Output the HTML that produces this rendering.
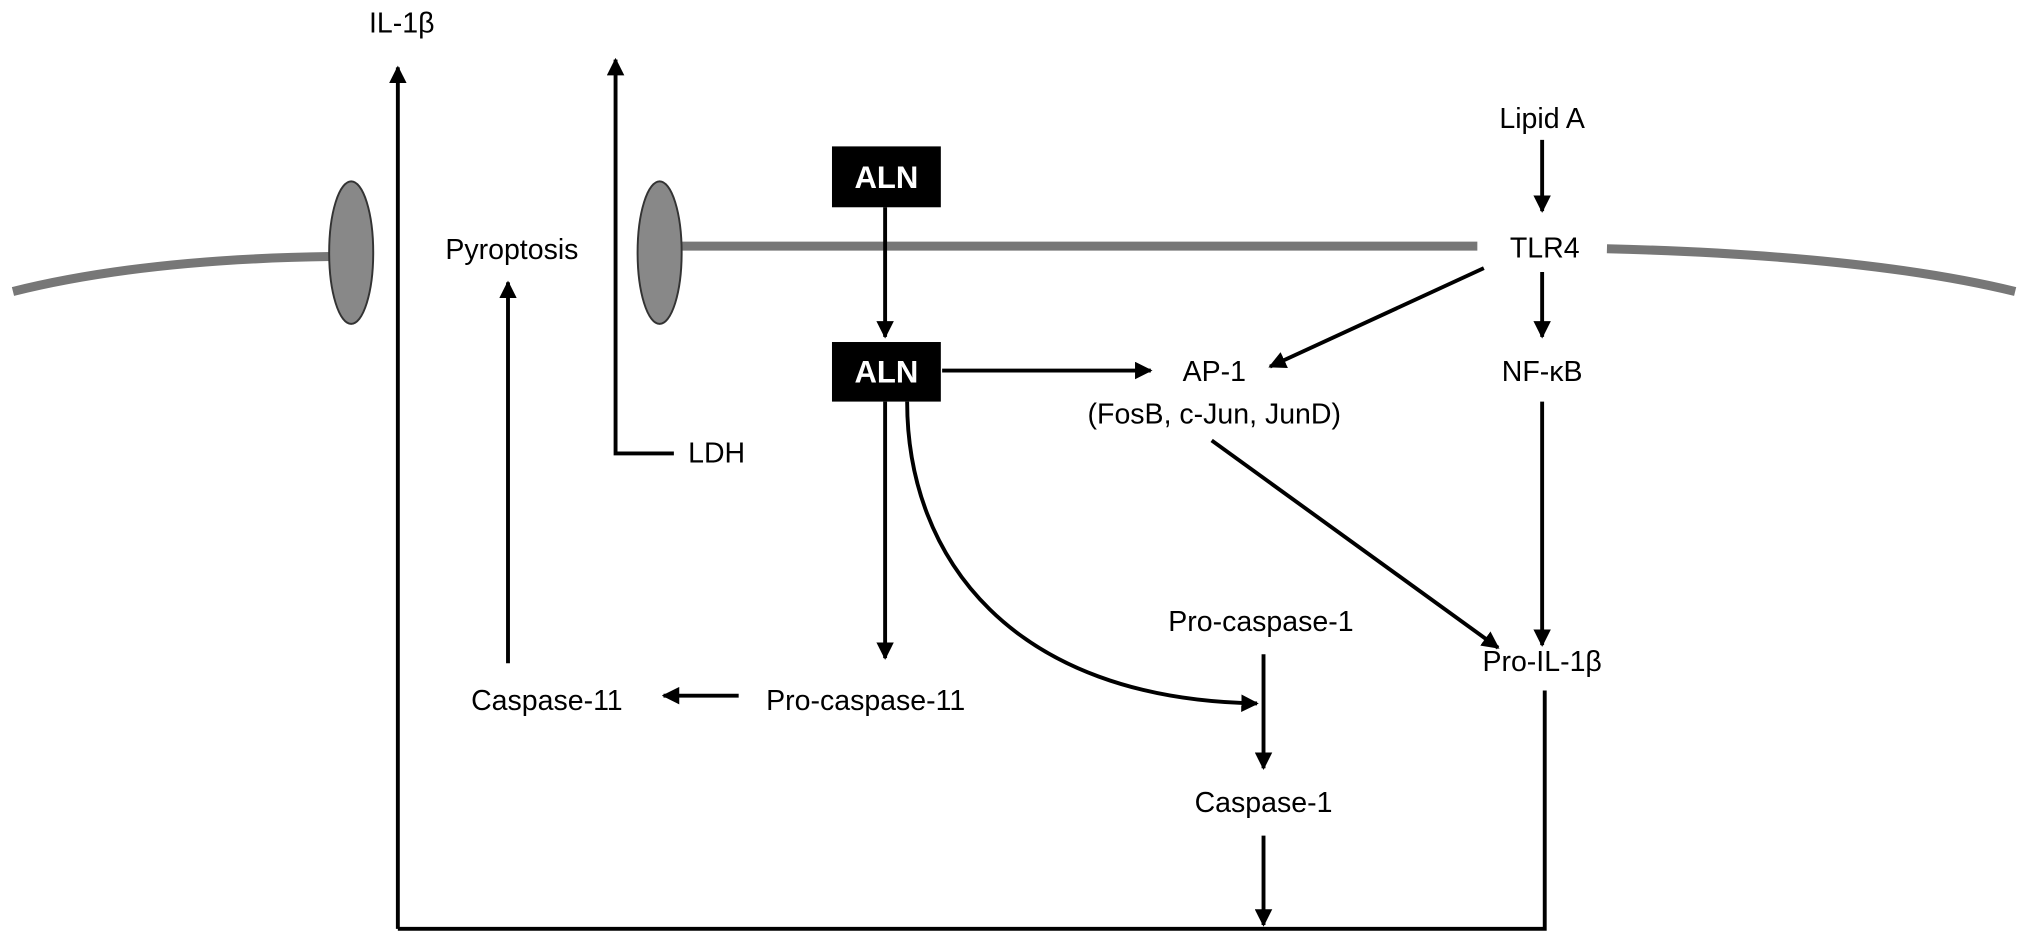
<!DOCTYPE html>
<html><head><meta charset="utf-8"><style>html,body{margin:0;padding:0;background:#fff}svg{display:block}</style></head>
<body>
<svg width="2032" height="947" viewBox="0 0 1568 731" preserveAspectRatio="none" xmlns="http://www.w3.org/2000/svg" font-family="Liberation Sans, sans-serif" font-size="22">
<defs>
<marker id="a" viewBox="0 0 10 10" refX="9" refY="5" markerWidth="4.5" markerHeight="4.5" orient="auto"><path d="M0,0 L10,5 L0,10 z" fill="#000"/></marker>
</defs>
<g fill="none" stroke="#777" stroke-width="7">
<path d="M10,225 Q110,200 255,198"/>
<path d="M525,190 L1140,190"/>
<path d="M1240,192 Q1440,197 1555,225"/>
</g>
<ellipse cx="271" cy="195" rx="17" ry="55" fill="#888" stroke="#333" stroke-width="1.5"/>
<ellipse cx="509" cy="195" rx="17" ry="55" fill="#888" stroke="#333" stroke-width="1.5"/>
<g stroke="#000" stroke-width="3" fill="none">
<path d="M307,717 L307,52" marker-end="url(#a)"/>
<path d="M307,717 L1192,717 L1192,533"/>
<path d="M975,645 L975,714" marker-end="url(#a)"/>
<path d="M520,350 L475,350 L475,46" marker-end="url(#a)"/>
<path d="M392,512 L392,218" marker-end="url(#a)"/>
<path d="M683,160 L683,260" marker-end="url(#a)"/>
<path d="M683,310 L683,508" marker-end="url(#a)"/>
<path d="M727,286 L888,286" marker-end="url(#a)"/>
<path d="M1190,108 L1190,163" marker-end="url(#a)"/>
<path d="M1190,210 L1190,260" marker-end="url(#a)"/>
<path d="M1190,310 L1190,498" marker-end="url(#a)"/>
<path d="M1145,207 L980,283" marker-end="url(#a)"/>
<path d="M935,340 L1156,500" marker-end="url(#a)"/>
<path d="M700,310 C700,430 780,540 970,543" marker-end="url(#a)"/>
<path d="M975,505 L975,593" marker-end="url(#a)"/>
<path d="M570,537 L512,537" marker-end="url(#a)"/>
</g>
<rect x="642" y="113" width="84" height="47" fill="#000"/>
<rect x="642" y="264" width="84" height="46" fill="#000"/>
<g text-anchor="middle" dominant-baseline="central">
<text x="684" y="137" fill="#fff" font-weight="bold" font-size="24">ALN</text>
<text x="684" y="287" fill="#fff" font-weight="bold" font-size="24">ALN</text>
<text x="310" y="18">IL-1β</text>
<text x="395" y="193">Pyroptosis</text>
<text x="553" y="350">LDH</text>
<text x="1190" y="92">Lipid A</text>
<text x="1192" y="192">TLR4</text>
<text x="1190" y="287">NF-κB</text>
<text x="937" y="287">AP-1</text>
<text x="937" y="320">(FosB, c-Jun, JunD)</text>
<text x="1190" y="511">Pro-IL-1β</text>
<text x="973" y="480">Pro-caspase-1</text>
<text x="975" y="620">Caspase-1</text>
<text x="422" y="541">Caspase-11</text>
<text x="668" y="541">Pro-caspase-11</text>
</g>
</svg>
</body></html>
